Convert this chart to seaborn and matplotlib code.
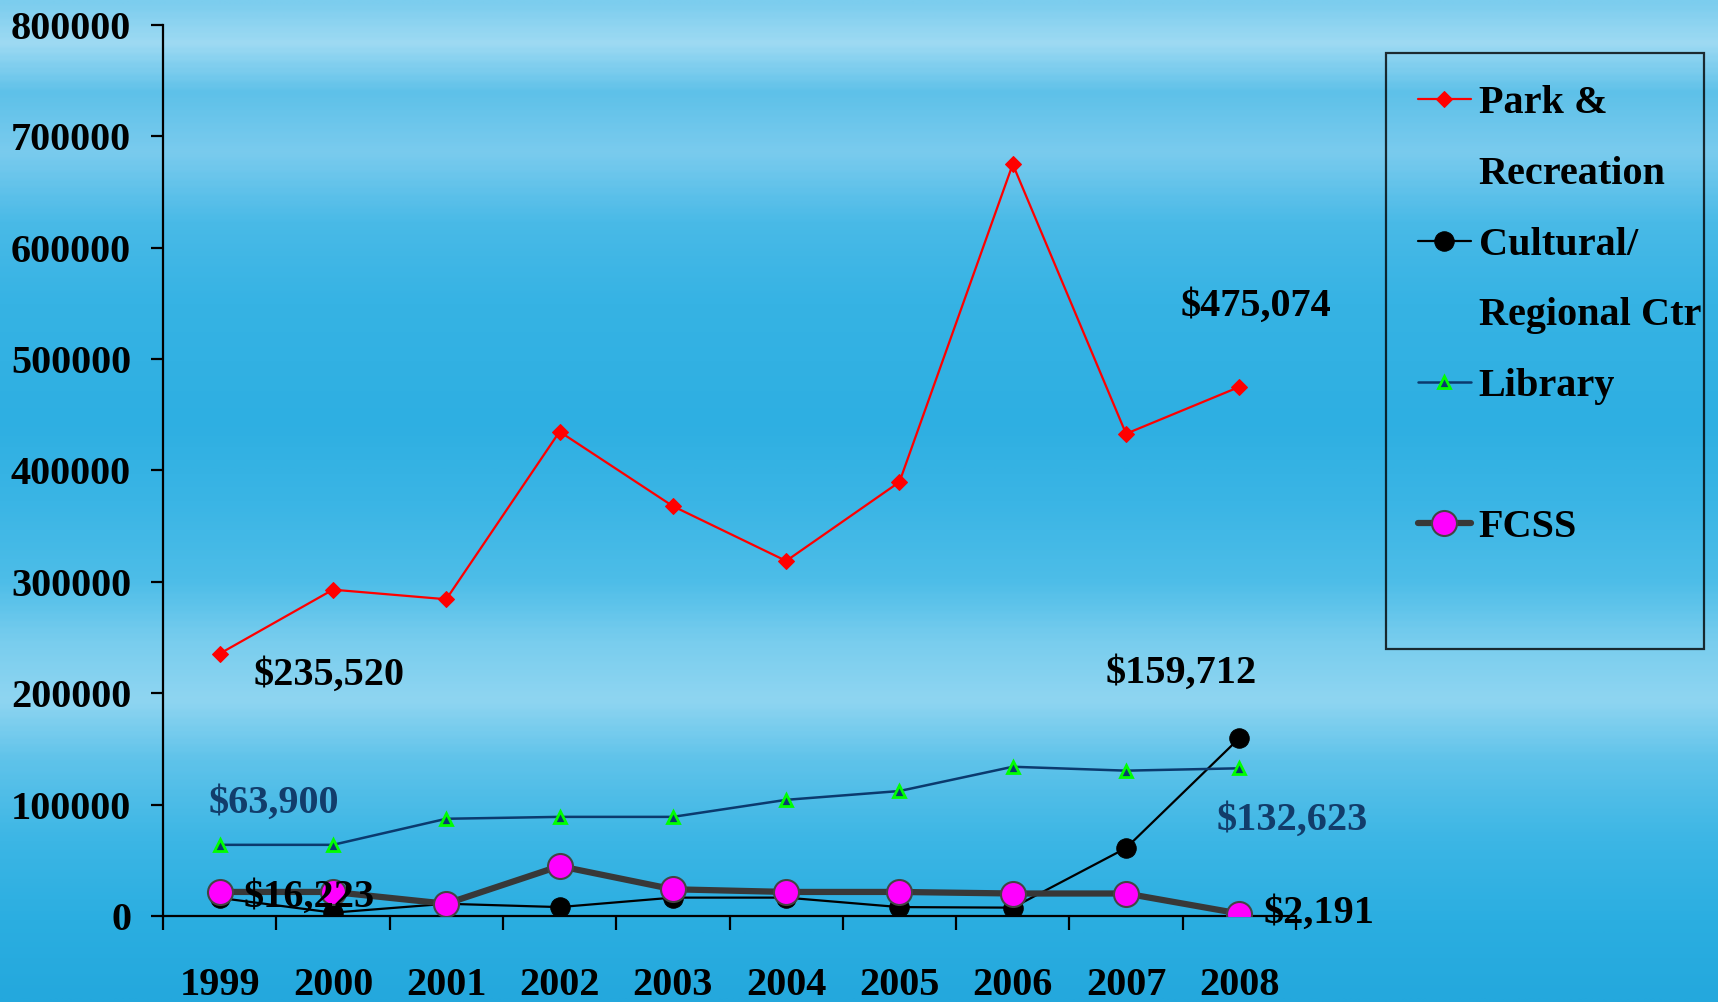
import numpy as np
import pandas as pd
import matplotlib
matplotlib.use("Agg")
import matplotlib.pyplot as plt
import seaborn as sns
from matplotlib.lines import Line2D
from matplotlib.colors import LinearSegmentedColormap

# ---------------- data ----------------
years = ["1999", "2000", "2001", "2002", "2003", "2004", "2005", "2006", "2007", "2008"]
park = [235520, 293000, 284400, 434900, 368000, 318800, 389700, 675000, 433000, 475074]
cultural = [16223, 3000, 11000, 8000, 16500, 16500, 8000, 7500, 61000, 159712]
library = [63900, 63900, 87300, 89000, 89000, 104300, 112200, 134000, 130500, 132623]
fcss = [21600, 21600, 11000, 44800, 24000, 21600, 21600, 20200, 20200, 2191]
series_names = ["Park & Recreation", "Cultural/ Regional Ctr", "Library", "FCSS"]
y_ticks = [0, 100000, 200000, 300000, 400000, 500000, 600000, 700000, 800000]

# annotations: (text, x index, y value, colour)
notes = [
    ("$235,520", 0.30, 216000, "black"),
    ("$63,900", -0.10, 101500, "#123d6b"),
    ("$16,223", 0.21, 16500, "black"),
    ("$159,712", 7.82, 218000, "black"),
    ("$132,623", 8.80, 86000, "#123d6b"),
    ("$2,191", 9.21, 2500, "black"),
    ("$475,074", 8.48, 547000, "black"),
]

sns.set_theme(style="white")
plt.rcParams["font.family"] = ["Liberation Serif", "DejaVu Serif"]
plt.rcParams["font.weight"] = "bold"
plt.rcParams["text.color"] = "black"
plt.rcParams["axes.labelcolor"] = "black"
plt.rcParams["xtick.color"] = "black"
plt.rcParams["ytick.color"] = "black"

FS = 29
W, H = 1718, 1002
fig = plt.figure(figsize=(W / 100, H / 100), dpi=100)

# ---------------- background (sky / water gradient) ----------------
bg = fig.add_axes([0, 0, 1, 1], zorder=-10)
stops = [
    (0.00, "#7ccdee"), (0.04, "#9edaf3"), (0.09, "#5ec1e9"), (0.15, "#7acbee"),
    (0.22, "#49bae7"), (0.30, "#36b3e4"), (0.42, "#2eafe2"), (0.50, "#3ab5e5"),
    (0.58, "#4dbde8"), (0.64, "#78cdee"), (0.70, "#8fd5f1"), (0.76, "#5fc3ea"),
    (0.84, "#3cb6e5"), (0.92, "#2baee1"), (1.00, "#24a8dd"),
]
cmap = LinearSegmentedColormap.from_list("sky", stops)
grad = np.linspace(0, 1, 400).reshape(-1, 1) * np.ones((1, 4))
bg.imshow(grad, aspect="auto", cmap=cmap, extent=[0, 1, 1, 0], interpolation="bilinear")
bg.set_xlim(0, 1)
bg.set_ylim(1, 0)
bg.axis("off")

# ---------------- main axes ----------------
ax = fig.add_axes([163 / W, 1 - 916 / H, (1296 - 163) / W, (916 - 25) / H])
ax.patch.set_alpha(0)

df = pd.DataFrame({"year": years, "park": park, "cultural": cultural,
                   "library": library, "fcss": fcss})

sns.lineplot(data=df, x="year", y="park", ax=ax, color="#ff0000", lw=1.6,
             marker="D", markersize=8.5, markeredgecolor="#ff0000",
             label=series_names[0], sort=False, zorder=3)
sns.lineplot(data=df, x="year", y="cultural", ax=ax, color="black", lw=1.6,
             marker="o", markersize=14, markeredgecolor="black",
             label=series_names[1], sort=False, zorder=4)
sns.lineplot(data=df, x="year", y="library", ax=ax, color="#0b3a6e", lw=1.8,
             marker="^", markersize=9, markerfacecolor="#0b3a6e",
             markeredgecolor="#00ff00", markeredgewidth=2,
             label=series_names[2], sort=False, zorder=5)
sns.lineplot(data=df, x="year", y="fcss", ax=ax, color="#383838", lw=4.5,
             marker="o", markersize=18, markerfacecolor="#ff00ff",
             markeredgecolor="#444444", markeredgewidth=1.5,
             label=series_names[3], sort=False, zorder=6)

ax.set_xlim(-0.5, len(years) - 0.5)
ax.set_ylim(0, 800000)
ax.set_yticks(y_ticks)
ax.set_yticklabels([str(v) for v in y_ticks])
ax.set_xticks(range(len(years)))
ax.set_xticklabels(years)
ax.set_xlabel("")
ax.set_ylabel("")
ax.grid(False)

# minor ticks between categories (tick marks), major labels centred
ax.set_xticks(np.arange(-0.5, len(years) + 0.5, 1), minor=True)
ax.tick_params(axis="x", which="major", length=0, pad=37, labelsize=FS)
ax.tick_params(axis="x", which="minor", length=10, width=1.6, color="black",
               direction="out", bottom=True)
ax.tick_params(axis="y", which="major", length=9, width=1.6, color="black",
               direction="out", left=True, pad=14, labelsize=FS)
for lab in ax.get_xticklabels() + ax.get_yticklabels():
    lab.set_fontweight("bold")
    lab.set_color("black")

for s in ["top", "right"]:
    ax.spines[s].set_visible(False)
for s in ["left", "bottom"]:
    ax.spines[s].set_color("black")
    ax.spines[s].set_linewidth(1.6)

for txt, xi, yv, col in notes:
    ax.text(xi, yv, txt, color=col, fontsize=FS, fontweight="bold",
            ha="left", va="center", zorder=10)

# ---------------- legend ----------------
h, l = ax.get_legend_handles_labels()
blank = Line2D([], [], linestyle="none", marker=None)
leg_handles = [h[0], blank, h[1], blank, h[2], blank, h[3], blank]
leg_labels = ["Park &", "Recreation", "Cultural/", "Regional Ctr", "Library", "", "FCSS", ""]
lx0, lx1, ly0, ly1 = 1386, 1704, 53, 629
leg = ax.legend(leg_handles, leg_labels, loc="upper left", mode="expand",
                bbox_to_anchor=(lx0 / W, 1 - ly1 / H, (lx1 - lx0) / W, (ly1 - ly0) / H),
                bbox_transform=fig.transFigure,
                frameon=True, fancybox=False, edgecolor="black",
                prop={"weight": "bold", "size": FS},
                handlelength=1.3, handletextpad=0.2, labelspacing=0.83,
                borderpad=0.8, borderaxespad=0)
for t in leg.get_texts():
    t.set_color("black")
frame = leg.get_frame()
frame.set_linewidth(1.6)
frame.set_facecolor("none")
frame.set_edgecolor("black")

fig.savefig("out.png", dpi=100)
